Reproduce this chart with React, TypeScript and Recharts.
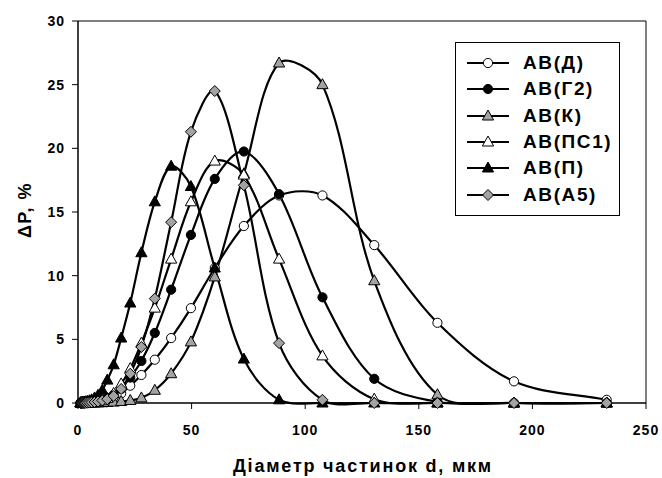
import React from 'react';
import { LineChart, Line, XAxis, YAxis, ReferenceArea, Legend } from 'recharts';

// particle diameter, um (same sieve grid for every sample)
const X = [1.1, 1.3, 1.6, 1.9, 2.3, 2.8, 3.4, 4.1, 5.0, 6.0, 7.3, 8.8, 10.7, 12.9, 15.7, 19.0, 23.0, 27.9, 33.8, 41.0, 49.7, 60.2, 73.0, 88.5, 107.6, 130.4, 158.2, 191.9, 232.7];

const AB_D = [0, 0, 0, 0, 0, 0, 0.01, 0.02, 0.03, 0.05, 0.08, 0.13, 0.2, 0.3, 0.45, 0.75, 1.36, 2.2, 3.4, 5.1, 7.45, 10.6, 13.9, 16.3, 16.3, 12.4, 6.3, 1.7, 0.25];
const AB_G2 = [0, 0, 0, 0, 0, 0.01, 0.01, 0.02, 0.04, 0.06, 0.1, 0.15, 0.25, 0.4, 0.65, 1.1, 2.0, 3.3, 5.5, 8.9, 13.2, 17.6, 19.75, 16.4, 8.3, 1.9, 0.1, 0, 0];
const AB_K = [0, 0, 0, 0, 0, 0, 0, 0, 0, 0, 0, 0.01, 0.02, 0.04, 0.07, 0.12, 0.2, 0.4, 1.0, 2.3, 4.8, 9.9, 18.0, 26.7, 25.0, 9.6, 0.65, 0, 0];
const AB_PS1 = [0, 0, 0, 0, 0, 0, 0, 0.01, 0.02, 0.03, 0.05, 0.1, 0.18, 0.35, 0.75, 1.5, 2.7, 4.7, 7.45, 11.3, 15.8, 19.0, 17.9, 11.3, 3.7, 0.3, 0, 0, 0];
const AB_P = [0.02, 0.03, 0.04, 0.05, 0.06, 0.08, 0.1, 0.13, 0.18, 0.25, 0.4, 0.6, 1.0, 1.8, 3.0, 5.1, 7.85, 11.8, 15.8, 18.6, 17.0, 10.6, 3.45, 0.25, 0, 0, 0, 0, 0];
const AB_A5 = [0, 0, 0, 0, 0, 0, 0.01, 0.02, 0.03, 0.05, 0.08, 0.12, 0.2, 0.3, 0.55, 1.1, 2.3, 4.4, 8.2, 14.2, 21.3, 24.5, 17.1, 4.7, 0.25, 0, 0, 0, 0];

const X_TICKS = [0, 50, 100, 150, 200, 250];
const Y_TICKS = [0, 5, 10, 15, 20, 25, 30];

const data = X.map((x, i) => ({
    x,
    d: AB_D[i],
    g2: AB_G2[i],
    k: AB_K[i],
    ps1: AB_PS1[i],
    p: AB_P[i],
    a5: AB_A5[i],
}));

const GRAY = '#a3a3a3';
const FONT = '"Liberation Sans", Arial, sans-serif';

type Kind = 'circle' | 'triangle' | 'diamond';

const SERIES: { key: string; name: string; kind: Kind; fill: string }[] = [
    { key: 'd', name: 'АВ(Д)', kind: 'circle', fill: '#fff' },
    { key: 'g2', name: 'АВ(Г2)', kind: 'circle', fill: '#000' },
    { key: 'k', name: 'АВ(К)', kind: 'triangle', fill: GRAY },
    { key: 'ps1', name: 'АВ(ПС1)', kind: 'triangle', fill: '#fff' },
    { key: 'p', name: 'АВ(П)', kind: 'triangle', fill: '#000' },
    { key: 'a5', name: 'АВ(А5)', kind: 'diamond', fill: GRAY },
];

function Marker({ cx, cy, kind, fill }: { cx: number; cy: number; kind: Kind; fill: string }) {
    if (cx == null || cy == null) return null;
    if (kind === 'circle') {
        return <circle cx={cx} cy={cy} r={4.6} fill={fill} stroke="#000" strokeWidth={1} />;
    }
    if (kind === 'triangle') {
        const pts = `${cx},${cy - 6} ${cx + 5.6},${cy + 4} ${cx - 5.6},${cy + 4}`;
        return <polygon points={pts} fill={fill} stroke="#000" strokeWidth={1} />;
    }
    const pts = `${cx},${cy - 5.5} ${cx + 5.5},${cy} ${cx},${cy + 5.5} ${cx - 5.5},${cy}`;
    return <polygon points={pts} fill={fill} stroke="#000" strokeWidth={1} />;
}

// Excel-like smoothed line: bezier tangents weighted by neighbouring chord lengths
function excelSmooth(context: any) {
    let pts: number[][] = [];
    const dist = (a: number[], b: number[]) => Math.hypot(b[0] - a[0], b[1] - a[1]);
    return {
        areaStart() {},
        areaEnd() {},
        lineStart() {
            pts = [];
        },
        lineEnd() {
            const n = pts.length;
            if (!n) return;
            context.moveTo(pts[0][0], pts[0][1]);
            for (let i = 0; i < n - 1; i++) {
                const p0 = pts[Math.max(i - 1, 0)];
                const p1 = pts[i];
                const p2 = pts[i + 1];
                const p3 = pts[Math.min(i + 2, n - 1)];
                const d01 = dist(p0, p1);
                const d12 = dist(p1, p2);
                const d23 = dist(p2, p3);
                const f1 = d01 + d12 > 0 ? d12 / (d01 + d12) / 3 : 0;
                const f2 = d12 + d23 > 0 ? d12 / (d12 + d23) / 3 : 0;
                context.bezierCurveTo(
                    p1[0] + (p2[0] - p0[0]) * f1,
                    p1[1] + (p2[1] - p0[1]) * f1,
                    p2[0] - (p3[0] - p1[0]) * f2,
                    p2[1] - (p3[1] - p1[1]) * f2,
                    p2[0],
                    p2[1]
                );
            }
        },
        point(x: number, y: number) {
            pts.push([+x, +y]);
        },
    };
}

function LegendBox() {
    return (
        <div
            style={{
                width: 165,
                height: 174,
                border: '1px solid #000',
                background: '#fff',
                paddingTop: 7,
                boxSizing: 'border-box',
                fontFamily: FONT,
            }}
        >
            {SERIES.map((s) => (
                <div key={s.key} style={{ display: 'flex', alignItems: 'center', height: 26.3 }}>
                    <svg width={67} height={26} style={{ flex: 'none' }}>
                        <line x1={11} y1={13} x2={53} y2={13} stroke="#000" strokeWidth={2} />
                        <Marker cx={32} cy={13} kind={s.kind} fill={s.fill} />
                    </svg>
                    <span style={{ fontSize: 19, fontWeight: 700, letterSpacing: 1.6, color: '#000' }}>{s.name}</span>
                </div>
            ))}
        </div>
    );
}

export default function App() {
    return (
        <div style={{ position: 'absolute', left: 0, top: 0, width: 662, height: 478, background: '#fff' }}>
            <LineChart width={662} height={478} data={data} margin={{ top: 21, right: 16, bottom: 0, left: 0 }}>
                <XAxis
                    dataKey="x"
                    type="number"
                    domain={[0, 250]}
                    ticks={X_TICKS}
                    height={75}
                    stroke="#000"
                    tickSize={6}
                    tickMargin={16}
                    tick={{ fill: '#000', fontSize: 14, fontWeight: 700, fontFamily: FONT, letterSpacing: 1 }}
                    label={{
                        content: () => (
                            <text
                                x={363}
                                y={472}
                                textAnchor="middle"
                                fontSize={18}
                                fontWeight={700}
                                fontFamily={FONT}
                                letterSpacing={1.8}
                                fill="#000"
                            >
                                Діаметр частинок d, мкм
                            </text>
                        ),
                    }}
                />
                <YAxis
                    type="number"
                    domain={[0, 30]}
                    ticks={Y_TICKS}
                    width={78}
                    stroke="#000"
                    tickSize={6}
                    tickMargin={7}
                    tick={{ fill: '#000', fontSize: 14, fontWeight: 700, fontFamily: FONT, letterSpacing: 1 }}
                    label={{
                        content: () => (
                            <text
                                x={25}
                                y={210}
                                transform="rotate(-90 25 210)"
                                textAnchor="middle"
                                dominantBaseline="central"
                                fontSize={18}
                                fontWeight={700}
                                fontFamily={FONT}
                                letterSpacing={1.5}
                                fill="#000"
                            >
                                ΔP, %
                            </text>
                        ),
                    }}
                />
                <ReferenceArea x1={0} x2={250} y1={0} y2={30} fill="none" stroke="#000" strokeWidth={1} />
                {SERIES.map((s) => (
                    <Line
                        key={s.key}
                        dataKey={s.key}
                        name={s.name}
                        type={excelSmooth as any}
                        stroke="#000"
                        strokeWidth={2.2}
                        isAnimationActive={false}
                        dot={(props: any) => (
                            <Marker key={`${s.key}-${props.index}`} cx={props.cx} cy={props.cy} kind={s.kind} fill={s.fill} />
                        )}
                        activeDot={false}
                    />
                ))}
                <Legend
                    layout="vertical"
                    align="center"
                    verticalAlign="middle"
                    wrapperStyle={{ left: 455, top: 42, width: 165, height: 174 }}
                    content={() => <LegendBox />}
                />
            </LineChart>
        </div>
    );
}
